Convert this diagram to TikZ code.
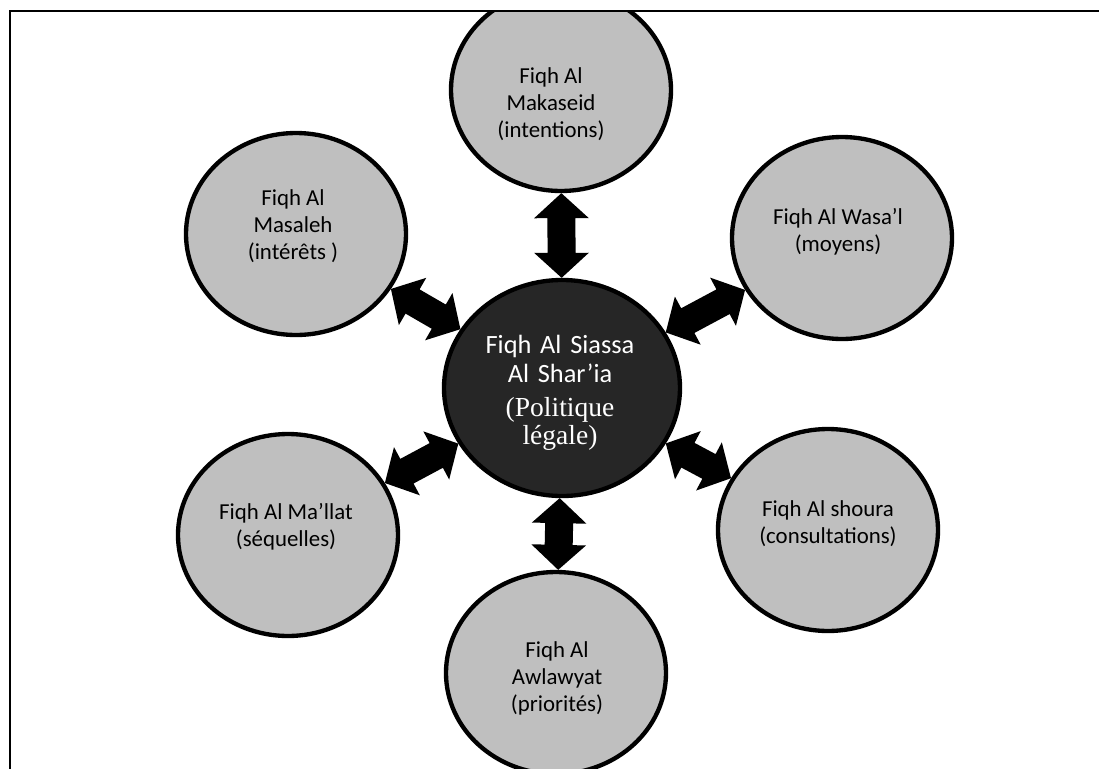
\documentclass[tikz,border=0pt]{standalone}
\usepackage{fontspec}
\setmainfont{Carlito}
\newfontfamily\timesfont{Liberation Serif}
\usetikzlibrary{calc,shapes.geometric}
\tikzset{
  outer/.style={ellipse, draw=black, line width=1.3mm, fill=black!25, minimum width=220*0.3mm, minimum height=202*0.3mm, inner sep=0pt},
  hub/.style={ellipse, draw=black, line width=1.3mm, fill=black!85, minimum width=236*0.3mm, minimum height=216*0.3mm, inner sep=0pt},
  outertext/.style={align=center, inner sep=0pt, font=\fontsize{19.5}{23}\selectfont},
  hubtext/.style={align=center, inner sep=0pt, text=white, text width=60mm, font=\fontsize{22.5}{24.5}\selectfont},
  arrowfill/.style={fill=black, draw=none}
}
\newcommand{\dblarr}[3]{%
  \path (#1) -- (#2) coordinate[pos=0] (#3a) coordinate[pos=1] (#3b);
  \fill[arrowfill] (#3a)
    -- ($(#3a)!7.5mm!(#3b)!8.2mm!90:(#3b)$)
    -- ($(#3a)!7.5mm!(#3b)!4.2mm!90:(#3b)$)
    -- ($(#3b)!7.5mm!(#3a)!4.2mm!-90:(#3a)$)
    -- ($(#3b)!7.5mm!(#3a)!8.2mm!-90:(#3a)$)
    -- (#3b)
    -- ($(#3b)!7.5mm!(#3a)!8.2mm!90:(#3a)$)
    -- ($(#3b)!7.5mm!(#3a)!4.2mm!90:(#3a)$)
    -- ($(#3a)!7.5mm!(#3b)!4.2mm!-90:(#3b)$)
    -- ($(#3a)!7.5mm!(#3b)!8.2mm!-90:(#3b)$)
    -- cycle;}
\begin{document}
\begin{tikzpicture}[x=0.3mm, y=-0.3mm]
\useasboundingbox (0,0) rectangle (1099,769);
\begin{scope}
\clip (9,10) rectangle (1099,769);
\node[outer] (t)  at (561,90)  {};
\node[outer] (tl) at (296,234) {};
\node[outer] (tr) at (842,238) {};
\node[outer] (bl) at (288,535) {};
\node[outer] (br) at (828,530) {};
\node[outer] (b)  at (556,673) {};
\node[hub]   (c)  at (562,388) {};
\dblarr{c}{t}{p1}
\dblarr{c}{b}{p2}
\dblarr{c}{tl}{p3}
\dblarr{c}{tr}{p4}
\dblarr{c}{bl}{p5}
\dblarr{c}{br}{p6}
\node[outertext] (tT)  at (551,104) {Fiqh Al\\Makaseid\\(intentions)};
\node[outertext] (tlT) at (293,226) {Fiqh Al\\Masaleh\\(intérêts )};
\node[outertext] (trT) at (838,232) {Fiqh Al Wasa'l\\(moyens)};
\node[outertext] (blT) at (286,527) {Fiqh Al Ma'llat\\(séquelles)};
\node[outertext] (brT) at (828,524) {Fiqh Al shoura\\(consultations)};
\node[outertext] (bT)  at (557,678) {Fiqh Al\\Awlawyat\\(priorités)};
\node[hubtext]   (cT)  at (560,393) {Fiqh Al Siassa\\Al Shar'ia\\[3pt]{\timesfont\fontsize{23.5}{26}\selectfont (Politique\\légale)}};
\end{scope}
\draw[line width=0.6mm] (9.5,769) -- (9.5,10.5) -- (1099,10.5);
\end{tikzpicture}
\end{document}
